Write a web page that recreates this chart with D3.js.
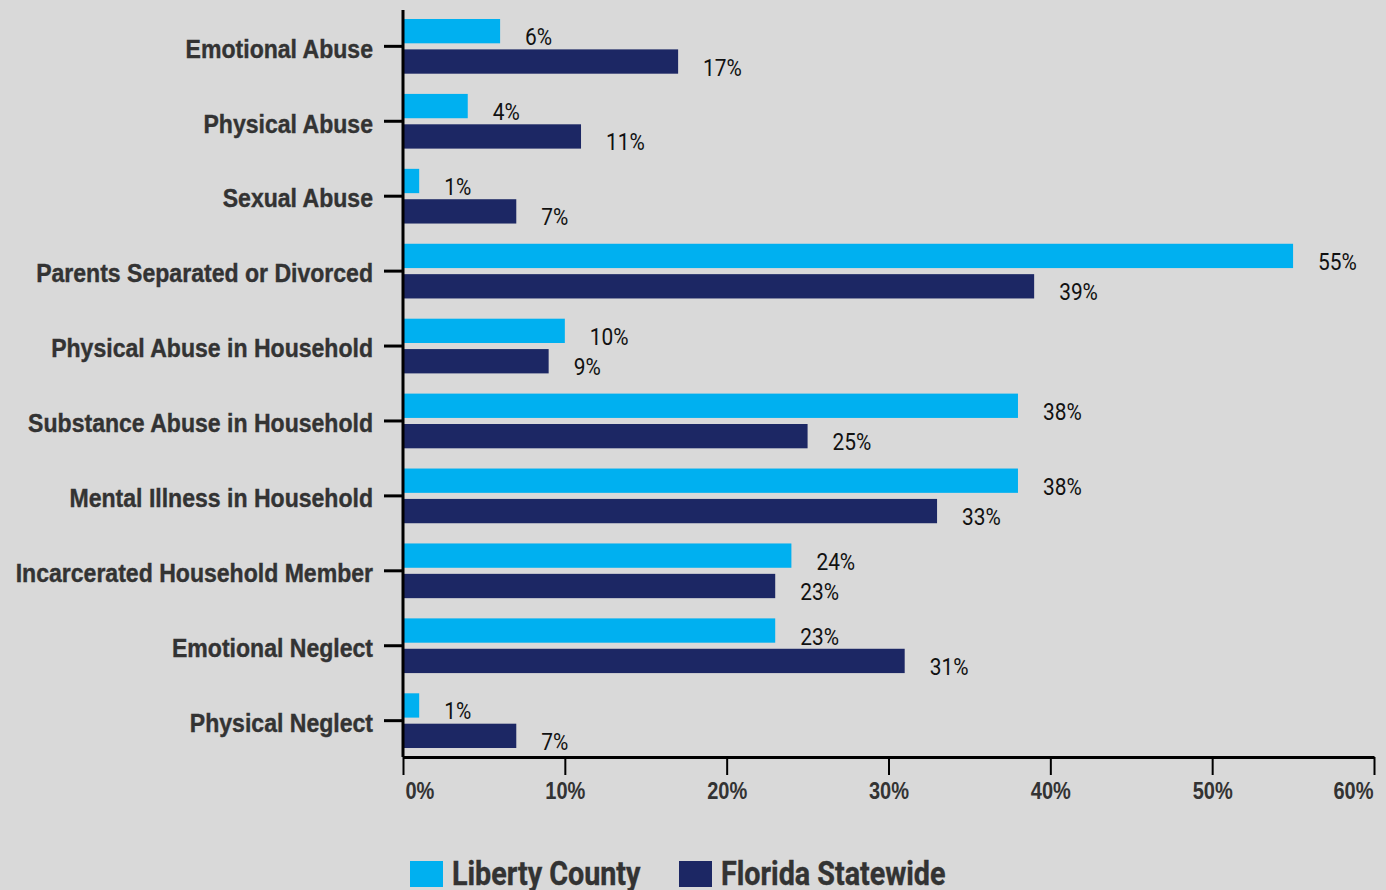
<!DOCTYPE html>
<html>
<head>
<meta charset="utf-8">
<script src="https://cdn.jsdelivr.net/npm/d3@7"></script>
<style>
  body { margin: 0; background: #d9d9d9; }
  svg { display: block; font-family: Roboto, sans-serif; }
</style>
</head>
<body>
<svg id="chart" width="1386" height="890"></svg>
<script>
// Chart data
const categories = [
  "Emotional Abuse", "Physical Abuse", "Sexual Abuse", "Parents Separated or Divorced",
  "Physical Abuse in Household", "Substance Abuse in Household", "Mental Illness in Household",
  "Incarcerated Household Member", "Emotional Neglect", "Physical Neglect"
];
const seriesNames = ["Liberty County", "Florida Statewide"];
const libertyCounty = [6, 4, 1, 55, 10, 38, 38, 24, 23, 1];
const floridaStatewide = [17, 11, 7, 39, 9, 25, 33, 23, 31, 7];
const xTicks = [0, 10, 20, 30, 40, 50, 60];

const colors = ["#00b0f0", "#1c2764"];
const squeeze = 0.87; // fake a condensed face

const svg = d3.select("#chart");
const margin = { left: 403, right: 12, top: 10, bottom: 133 };
const width = 1386, height = 890;

const x = d3.scaleLinear().domain([0, 60]).range([margin.left, width - margin.right]);
const y = d3.scaleBand().domain(categories).range([margin.top, height - margin.bottom]).paddingInner(0.27).paddingOuter(0.12);
const ySub = d3.scaleBand().domain(seriesNames).range([0, y.bandwidth()]).paddingInner(0.2);

const rows = categories.map((c, i) => ({ cat: c, vals: [libertyCounty[i], floridaStatewide[i]] }));

// Bars
const groups = svg.append("g").selectAll("g")
  .data(rows)
  .enter().append("g")
  .attr("transform", d => `translate(0,${y(d.cat)})`);

groups.selectAll("rect")
  .data(d => d.vals.map((v, j) => ({ v, s: seriesNames[j], j })))
  .enter().append("rect")
  .attr("x", x(0))
  .attr("y", d => ySub(d.s))
  .attr("width", d => x(d.v) - x(0))
  .attr("height", ySub.bandwidth())
  .attr("fill", d => colors[d.j]);

// Value labels
groups.selectAll("text")
  .data(d => d.vals.map((v, j) => ({ v, s: seriesNames[j] })))
  .enter().append("text")
  .attr("transform", d => `translate(${x(d.v) + 25},${ySub(d.s) + ySub.bandwidth() / 2 + 14}) scale(${squeeze},1)`)
  .attr("font-size", 24)
  .attr("fill", "#111")
  .text(d => d.v + "%");

// Left axis
const yAxis = svg.append("g")
  .attr("transform", `translate(${x(0)},0)`)
  .call(d3.axisLeft(y).tickSize(19).tickSizeOuter(0).tickPadding(11));
yAxis.select(".domain").attr("stroke", "#000").attr("stroke-width", 3)
  .attr("d", `M0,${margin.top}V${height - margin.bottom}`);
yAxis.selectAll(".tick line").attr("stroke", "#000").attr("stroke-width", 3);
yAxis.selectAll(".tick text")
  .attr("x", -30 / squeeze)
  .attr("y", 2)
  .attr("dy", "0.35em")
  .attr("transform", `scale(${squeeze},1)`)
  .attr("font-size", 26.5)
  .attr("font-weight", "bold")
  .attr("fill", "#333")
  .attr("stroke", "#333")
  .attr("stroke-width", 0.4);

// Bottom axis
const xAxis = svg.append("g")
  .attr("transform", `translate(0,${height - margin.bottom})`)
  .call(d3.axisBottom(x).tickValues(xTicks).tickFormat(d => d + "%").tickSize(18).tickSizeOuter(0).tickPadding(8));
xAxis.select(".domain").attr("stroke", "#000").attr("stroke-width", 3);
xAxis.selectAll(".tick line").attr("stroke", "#000").attr("stroke-width", 2);
xAxis.selectAll(".tick text")
  .attr("transform", `scale(${squeeze},1)`)
  .attr("text-anchor", (d, i) => i === 0 ? "start" : i === xTicks.length - 1 ? "end" : "middle")
  .attr("x", (d, i) => i === 0 ? 2 / squeeze : i === xTicks.length - 1 ? -1 / squeeze : 0)
  .attr("font-size", 23)
  .attr("font-weight", "bold")
  .attr("fill", "#333");

// Legend
const legendX = [410, 679];
const legend = svg.append("g").selectAll("g")
  .data(seriesNames)
  .enter().append("g")
  .attr("transform", (d, i) => `translate(${legendX[i]},861)`);
legend.append("rect")
  .attr("width", 33).attr("height", 26)
  .attr("fill", (d, i) => colors[i]);
legend.append("text")
  .attr("transform", `translate(42,24) scale(${squeeze},1)`)
  .attr("font-size", 33)
  .attr("font-weight", "bold")
  .attr("fill", "#333")
  .attr("stroke", "#333")
  .attr("stroke-width", 0.4)
  .text(d => d);
</script>
</body>
</html>
